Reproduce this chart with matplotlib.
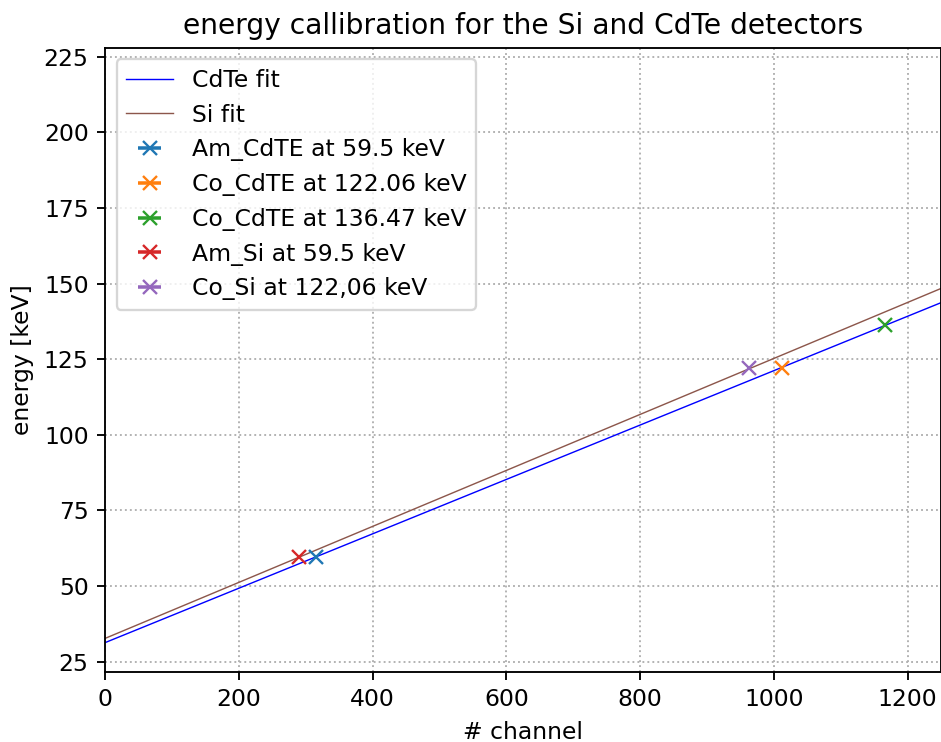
import matplotlib
matplotlib.use("Agg")
import matplotlib.pyplot as plt

# fit line endpoints
fit_x = [0, 1250]
cdte_fit_y = [31.3, 143.7]
si_fit_y = [32.7, 148.4]

# calibration points
labels = ["Am_CdTE at 59.5 keV", "Co_CdTE at 122.06 keV", "Co_CdTE at 136.47 keV",
          "Am_Si at 59.5 keV", "Co_Si at 122,06 keV"]
channels = [316, 1012, 1166, 289.5, 962.5]
energies = [59.5, 122.06, 136.47, 59.5, 122.06]
channel_err = [3, 3, 3, 3, 3]
colors = ["tab:blue", "tab:orange", "tab:green", "tab:red", "tab:purple"]

DPI = 169
fig = plt.figure(figsize=(942/DPI, 742/DPI), dpi=DPI)
ax = fig.add_axes([105/942, 1-672/742, (941-105)/942, (672-47.7)/742])

ax.plot(fit_x, cdte_fit_y, color="blue", lw=0.6, label="CdTe fit")
ax.plot(fit_x, si_fit_y, color="tab:brown", lw=0.6, label="Si fit")
for x, y, e, c, l in zip(channels, energies, channel_err, colors, labels):
    ax.errorbar([x], [y], xerr=[e], fmt="x", color=c, markersize=6, label=l)

ax.set_xlim(0, 1250)
ax.set_ylim(21.6, 228)
ax.set_yticks([25, 50, 75, 100, 125, 150, 175, 200, 225])
ax.grid(True, linestyle=":", color="#b0b0b0", lw=0.8)
ax.set_xlabel("# channel", fontsize=10)
ax.set_ylabel("energy [keV]", fontsize=10)
ax.set_title("energy callibration for the Si and CdTe detectors", fontsize=12)
ax.legend(loc="upper left", fontsize=10)

fig.savefig("out.png", dpi=DPI)
